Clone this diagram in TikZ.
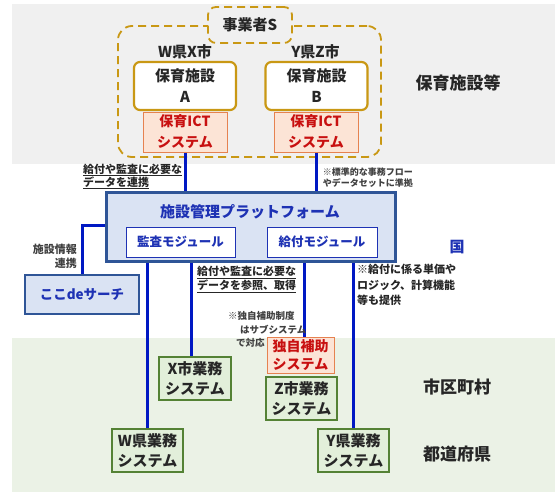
\documentclass[tikz,border=0pt]{standalone}
\usepackage{fontspec}
\setmainfont{Noto Sans CJK JP}
\newcommand\myfs[2]{\fontsize{#1}{#2}\selectfont\bfseries}
\definecolor{bggray}{RGB}{240,240,240}
\definecolor{bggreen}{RGB}{235,242,230}
\definecolor{gold}{RGB}{201,152,20}
\definecolor{orangeb}{RGB}{230,130,80}
\definecolor{pinkf}{RGB}{252,228,214}
\definecolor{redt}{RGB}{200,16,16}
\definecolor{txt}{RGB}{38,38,38}
\definecolor{note}{RGB}{64,64,64}
\definecolor{blueb}{RGB}{47,85,151}
\definecolor{bluef}{RGB}{218,227,243}
\definecolor{bluet}{RGB}{30,50,180}
\definecolor{bluel}{RGB}{0,24,195}
\definecolor{greenb}{RGB}{84,130,53}
\definecolor{greenf}{RGB}{226,239,218}
\tikzset{
  every node/.style={text=txt, inner sep=0pt, align=center},
  hoiku/.style={draw=gold, line width=2.2pt, fill=white, rounded corners=6pt, font=\myfs{15}{21}},
  ictbox/.style={draw=orangeb, line width=1pt, fill=pinkf, text=redt, font=\myfs{14}{21}},
  platbox/.style={draw=blueb, line width=3pt, fill=bluef},
  modbox/.style={draw=bluet, line width=1pt, fill=white, text=bluet, font=\myfs{12.5}{15}},
  gyomu/.style={draw=greenb, line width=2pt, fill=greenf, font=\myfs{15}{19.5}},
  conn/.style={draw=bluel, line width=3pt},
  opdash/.style={draw=gold, line width=1.8pt, dash pattern=on 8pt off 5pt, rounded corners=14pt},
  biglabel/.style={font=\myfs{17}{20}},
  notelabel/.style={text=note}
}
\begin{document}
\begin{tikzpicture}[x=1pt,y=-1pt]
\useasboundingbox (0,0) rectangle (555,493);
% background bands
\fill[bggray] (12,4) rectangle (555,164);
\fill[bggreen] (12,338) rectangle (555,492);
% operator S dashed group
\node[opdash, minimum width=263pt, minimum height=131pt] (grp) at (249.5,91.5) {};
\node[opdash, rounded corners=8pt, fill=bggray, minimum width=84pt, minimum height=36pt, font=\myfs{15}{18}] (jigyo) at (250,25) {事業者S};
\node[font=\myfs{15}{18}] (wx) at (185,52) {W県X市};
\node[font=\myfs{15}{18}] (yz) at (315.5,52) {Y県Z市};
\node[hoiku, minimum width=102pt, minimum height=48pt] (hA) at (185,86) {保育施設\\A};
\node[hoiku, minimum width=102pt, minimum height=48pt] (hB) at (316.5,86) {保育施設\\B};
\node[ictbox, minimum width=84pt, minimum height=40pt] (ictA) at (185,132) {保育ICT\\システム};
\node[ictbox, minimum width=84pt, minimum height=40pt] (ictB) at (316,132) {保育ICT\\システム};
\node[biglabel] (lblhoiku) at (458,83) {保育施設等};
% platform
\node[platbox, minimum width=289pt, minimum height=69pt] (plat) at (250.5,226.5) {};
\node[text=bluet, font=\myfs{15}{18}] (plattitle) at (250,212) {施設管理プラットフォーム};
\node[modbox, minimum width=109pt, minimum height=30pt] (kansa) at (180.5,242) {監査モジュール};
\node[modbox, minimum width=110pt, minimum height=30pt] (kyufu) at (322,242) {給付モジュール};
\node[text=bluet, font=\myfs{15}{18}] (kuni) at (457,247) {国};
\node[platbox, line width=2.6pt, minimum width=114pt, minimum height=39pt, text=bluet, font=\myfs{13.5}{16}] (koko) at (82,294.5) {ここdeサーチ};
% municipal systems
\node[ictbox, font=\myfs{14}{18}, minimum width=67pt, minimum height=36pt] (dokuji) at (300.5,355) {独自補助\\システム};
\node[gyomu, minimum width=71pt, minimum height=43pt] (zshi) at (301.5,398.5) {Z市業務\\システム};
\node[gyomu, minimum width=72pt, minimum height=43pt] (xshi) at (195,378.5) {X市業務\\システム};
\node[gyomu, minimum width=71pt, minimum height=43pt] (wken) at (147.5,450.5) {W県業務\\システム};
\node[gyomu, minimum width=71pt, minimum height=43pt] (yken) at (353.5,450.5) {Y県業務\\システム};
\node[biglabel] (lblshi) at (457,387) {市区町村};
\node[biglabel] (lblken) at (457,454) {都道府県};
% connectors
\draw[conn] (ictA.south) -- (ictA.south |- plat.north);
\draw[conn] (ictB.south) -- (ictB.south |- plat.north);
\draw[conn] (koko.north) |- ([yshift=1.5pt]plat.west);
\draw[conn] ([xshift=-0.5pt]wken.north) -- ([xshift=-0.5pt]wken.north |- plat.south);
\draw[conn] ([xshift=-4pt]xshi.north) -- ([xshift=-4pt]xshi.north |- plat.south);
\draw[conn] ([xshift=3.5pt]dokuji.north) -- ([xshift=3.5pt]dokuji.north |- plat.south);
\draw[conn] ([xshift=-0.5pt]yken.north) -- ([xshift=-0.5pt]yken.north |- plat.south);
% labels
\node[anchor=west, align=left, font=\myfs{11}{13}] (l1) at (83,176.5) {\underline{給付や監査に必要な}\\\underline{データを連携}};
\node[anchor=east, align=right, notelabel, font=\myfs{9}{11}] (l2) at (413,177.5) {※標準的な事務フロー\\やデータセットに準拠};
\node[anchor=east, align=right, notelabel, font=\myfs{11}{14}] (l3) at (77,256) {施設情報\\連携};
\node[anchor=west, align=left, font=\myfs{11}{14.5}] (l4) at (197,279.5) {\underline{給付や監査に必要な}\\\underline{データを参照、取得}};
\node[anchor=west, align=left, font=\myfs{11}{15.5}] (l5) at (357,285) {※給付に係る単価や\\ロジック、計算機能\\等も提供};
\node[anchor=west, align=left, notelabel, font=\myfs{9.5}{13.5}] (l6) at (228,329.5) {※独自補助制度\\\hspace*{12pt}はサブシステム\\\hspace*{8pt}で対応};
\end{tikzpicture}
\end{document}
